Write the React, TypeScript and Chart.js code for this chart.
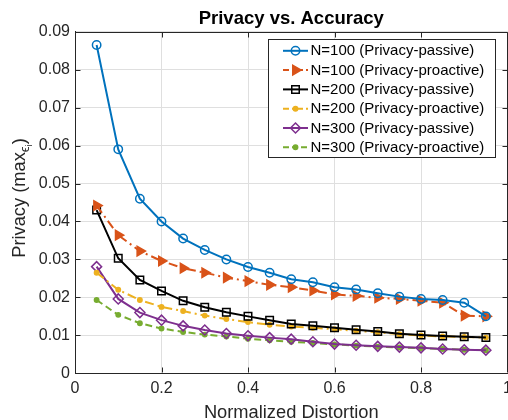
import React, { useEffect, useRef } from 'react';
import { Chart, registerables } from 'chart.js';

Chart.register(...registerables);

// ---------- data ----------
const distortion = [0.05, 0.1, 0.15, 0.2, 0.25, 0.3, 0.35, 0.4, 0.45, 0.5, 0.55, 0.6, 0.65, 0.7, 0.75, 0.8, 0.85, 0.9, 0.95];

const n100Passive = [0.0865, 0.059, 0.046, 0.04, 0.0355, 0.0325, 0.03, 0.028, 0.0265, 0.0248, 0.024, 0.0227, 0.0221, 0.0211, 0.0202, 0.0196, 0.0193, 0.0186, 0.015];
const n100Proactive = [0.0442, 0.0364, 0.0322, 0.0296, 0.0277, 0.0265, 0.0252, 0.0243, 0.0233, 0.0227, 0.0218, 0.0208, 0.0204, 0.0199, 0.0196, 0.0191, 0.0186, 0.0152, 0.015];
const n200Passive = [0.043, 0.0303, 0.0246, 0.0217, 0.0191, 0.0174, 0.0161, 0.015, 0.014, 0.013, 0.0125, 0.012, 0.0115, 0.011, 0.0104, 0.0101, 0.0098, 0.0096, 0.0094];
const n200Proactive = [0.0265, 0.022, 0.0193, 0.0175, 0.0164, 0.0152, 0.0143, 0.0135, 0.0128, 0.0123, 0.012, 0.0116, 0.0112, 0.0108, 0.0103, 0.01, 0.0097, 0.0096, 0.0094];
const n300Passive = [0.0281, 0.0196, 0.016, 0.014, 0.0125, 0.0114, 0.0105, 0.0099, 0.0094, 0.009, 0.0083, 0.0077, 0.0074, 0.0071, 0.0069, 0.0067, 0.0064, 0.0062, 0.0061];
const n300Proactive = [0.0193, 0.0154, 0.0132, 0.0118, 0.0109, 0.0102, 0.0097, 0.0091, 0.0087, 0.0083, 0.008, 0.0076, 0.0073, 0.007, 0.0068, 0.0066, 0.0064, 0.0062, 0.0061];

const seriesLabels = [
  'N=100 (Privacy-passive)',
  'N=100 (Privacy-proactive)',
  'N=200 (Privacy-passive)',
  'N=200 (Privacy-proactive)',
  'N=300 (Privacy-passive)',
  'N=300 (Privacy-proactive)',
];

const xTickLabels = ['0', '0.2', '0.4', '0.6', '0.8', '1'];
const yTickLabels = ['0', '0.01', '0.02', '0.03', '0.04', '0.05', '0.06', '0.07', '0.08', '0.09'];

const chartTitle = 'Privacy vs. Accuracy';
const xTitle = 'Normalized Distortion';
const yTitleMain = 'Privacy (max';
const yTitleSub = 'ϵ';
const yTitleSubSub = 'i';
const yTitleEnd = ')';

// ---------- styles ----------
const FONT = '"Liberation Sans", Arial, Helvetica, sans-serif';
const AXIS = '#262626';
const GRID = '#dfdfdf';

type Style = {
  color: string;
  dash: number[];
  marker: string;
  radius: number;
  filled: boolean;
  rotation: number;
};

const styles: Style[] = [
  { color: '#0072BD', dash: [], marker: 'circle', radius: 4.2, filled: false, rotation: 0 },
  { color: '#D95319', dash: [9, 4, 2, 4], marker: 'triangle', radius: 5.5, filled: true, rotation: 90 },
  { color: '#000000', dash: [], marker: 'rect', radius: 5.3, filled: false, rotation: 0 },
  { color: '#EDB120', dash: [9, 4, 2, 4], marker: 'circle', radius: 2.2, filled: true, rotation: 0 },
  { color: '#7E2F8E', dash: [], marker: 'rectRot', radius: 5, filled: false, rotation: 0 },
  { color: '#77AC30', dash: [7, 4], marker: 'circle', radius: 2.2, filled: true, rotation: 0 },
];

const allSeries = [n100Passive, n100Proactive, n200Passive, n200Proactive, n300Passive, n300Proactive];

function drawMarker(ctx: CanvasRenderingContext2D, s: Style, x: number, y: number) {
  const r = s.radius;
  ctx.beginPath();
  if (s.marker === 'circle') {
    ctx.arc(x, y, r, 0, Math.PI * 2);
  } else if (s.marker === 'triangle') {
    let rad = (s.rotation * Math.PI) / 180;
    for (let k = 0; k < 3; k++) {
      const px = x + Math.sin(rad) * r;
      const py = y - Math.cos(rad) * r;
      if (k === 0) ctx.moveTo(px, py);
      else ctx.lineTo(px, py);
      rad += (2 * Math.PI) / 3;
    }
    ctx.closePath();
  } else if (s.marker === 'rect') {
    const h = Math.SQRT1_2 * r;
    ctx.rect(x - h, y - h, 2 * h, 2 * h);
  } else if (s.marker === 'rectRot') {
    ctx.moveTo(x - r, y);
    ctx.lineTo(x, y - r);
    ctx.lineTo(x + r, y);
    ctx.lineTo(x, y + r);
    ctx.closePath();
  }
  if (s.filled) {
    ctx.fillStyle = s.color;
    ctx.fill();
  }
  ctx.setLineDash([]);
  ctx.lineWidth = 1.5;
  ctx.strokeStyle = s.color;
  ctx.stroke();
}

const decorPlugin = {
  id: 'decor',
  beforeDatasetsDraw(chart: any) {
    const { ctx, chartArea: a, scales } = chart;
    ctx.save();
    ctx.strokeStyle = AXIS;
    ctx.lineWidth = 1;
    ctx.setLineDash([]);
    const top = Math.round(a.top) + 0.5;
    const right = Math.round(a.right) - 0.5;
    const bottom = Math.round(a.bottom) - 0.5;
    const left = Math.round(a.left) + 0.5;
    ctx.beginPath();
    ctx.moveTo(left, top);
    ctx.lineTo(right, top);
    ctx.lineTo(right, bottom);
    ctx.stroke();
    const tl = 5;
    ctx.beginPath();
    xTickLabels.forEach((_, i) => {
      const px = Math.round(scales.x.getPixelForValue(i * 0.2)) + 0.5;
      ctx.moveTo(px, top);
      ctx.lineTo(px, top + tl);
      ctx.moveTo(px, bottom);
      ctx.lineTo(px, bottom - tl);
    });
    yTickLabels.forEach((_, i) => {
      const py = Math.round(scales.y.getPixelForValue(i * 0.01)) + 0.5;
      ctx.moveTo(left, py);
      ctx.lineTo(left + tl, py);
      ctx.moveTo(right, py);
      ctx.lineTo(right - tl, py);
    });
    ctx.stroke();
    ctx.restore();
  },
  afterDatasetsDraw(chart: any) {
    const { ctx, chartArea: a } = chart;
    ctx.save();
    // legend box
    const bx = 268.5, by = 39.5, bw = 227, bh = 118;
    ctx.fillStyle = '#ffffff';
    ctx.fillRect(bx, by, bw, bh);
    ctx.strokeStyle = AXIS;
    ctx.lineWidth = 1;
    ctx.setLineDash([]);
    ctx.strokeRect(bx, by, bw, bh);
    ctx.font = `15px ${FONT}`;
    ctx.textBaseline = 'middle';
    ctx.textAlign = 'left';
    seriesLabels.forEach((label, i) => {
      const s = styles[i];
      const y = by + 11.3 + i * 19.3;
      ctx.beginPath();
      ctx.setLineDash(s.dash.length ? [6, 3, 2, 3].slice(0, s.dash.length) : []);
      ctx.strokeStyle = s.color;
      ctx.lineWidth = 2;
      ctx.moveTo(283, y);
      ctx.lineTo(308, y);
      ctx.stroke();
      drawMarker(ctx, s, 295.5, y);
      ctx.fillStyle = '#000000';
      ctx.fillText(label, 310.5, y + 0.5);
    });

    // title
    ctx.fillStyle = '#000000';
    ctx.font = `bold 18.5px ${FONT}`;
    ctx.textAlign = 'center';
    ctx.textBaseline = 'alphabetic';
    ctx.fillText(chartTitle, (a.left + a.right) / 2, 24);

    // x title
    ctx.fillStyle = AXIS;
    ctx.font = `18.3px ${FONT}`;
    ctx.fillText(xTitle, (a.left + a.right) / 2, 418);

    // y title with subscripts
    const mainFont = `18.3px ${FONT}`;
    const subFont = `13px ${FONT}`;
    const subSubFont = `9.5px ${FONT}`;
    ctx.font = mainFont;
    const w1 = ctx.measureText(yTitleMain).width;
    const w4 = ctx.measureText(yTitleEnd).width;
    ctx.font = subFont;
    const w2 = ctx.measureText(yTitleSub).width;
    ctx.font = subSubFont;
    const w3 = ctx.measureText(yTitleSubSub).width;
    const total = w1 + w2 + w3 + w4;
    ctx.translate(25, 198);
    ctx.rotate(-Math.PI / 2);
    ctx.textAlign = 'left';
    let cx = -total / 2;
    ctx.font = mainFont;
    ctx.fillText(yTitleMain, cx, 0);
    cx += w1;
    ctx.font = subFont;
    ctx.fillText(yTitleSub, cx, 4);
    cx += w2;
    ctx.font = subSubFont;
    ctx.fillText(yTitleSubSub, cx, 7);
    cx += w3;
    ctx.font = mainFont;
    ctx.fillText(yTitleEnd, cx, 0);
    ctx.restore();
  },
};

export default function App() {
  const ref = useRef<HTMLCanvasElement | null>(null);

  useEffect(() => {
    if (!ref.current) return;
    const datasets = allSeries.map((vals, i) => {
      const s = styles[i];
      return {
        label: seriesLabels[i],
        data: distortion.map((x, j) => ({ x, y: vals[j] })),
        borderColor: s.color,
        backgroundColor: s.color,
        borderWidth: 2,
        borderDash: s.dash,
        pointStyle: s.marker,
        pointRadius: s.radius,
        pointRotation: s.rotation,
        pointBackgroundColor: s.filled ? s.color : 'rgba(0,0,0,0)',
        pointBorderColor: s.color,
        pointBorderWidth: 1.5,
        fill: false,
        tension: 0,
      };
    });

    const chart = new Chart(ref.current, {
      type: 'line',
      data: { datasets },
      plugins: [decorPlugin],
      options: {
        animation: false,
        responsive: false,
        maintainAspectRatio: false,
        layout: { padding: { top: 31.7, right: 32.5, left: 0, bottom: 0 } },
        plugins: {
          legend: { display: false },
          title: { display: false },
          tooltip: { enabled: false },
        },
        scales: {
          x: {
            type: 'linear',
            min: 0,
            max: 1,
            afterFit: (scale: any) => {
              scale.height = 46.7;
            },
            afterBuildTicks: (scale: any) => {
              scale.ticks = xTickLabels.map((_, i) => ({ value: i * 0.2 }));
            },
            ticks: {
              callback: (_v: any, i: number) => xTickLabels[i],
              font: { family: FONT, size: 16 },
              color: AXIS,
              padding: 6,
              maxRotation: 0,
              autoSkip: false,
            },
            grid: { color: GRID, lineWidth: 1, drawTicks: false },
            border: { color: AXIS, width: 1 },
          },
          y: {
            type: 'linear',
            min: 0,
            max: 0.09,
            afterFit: (scale: any) => {
              scale.width = 75;
            },
            afterBuildTicks: (scale: any) => {
              scale.ticks = yTickLabels.map((_, i) => ({ value: i * 0.01 }));
            },
            ticks: {
              callback: (_v: any, i: number) => yTickLabels[i],
              font: { family: FONT, size: 16 },
              color: AXIS,
              padding: 5,
              autoSkip: false,
            },
            grid: { color: GRID, lineWidth: 1, drawTicks: false },
            border: { color: AXIS, width: 1 },
          },
        },
      },
    } as any);
    return () => chart.destroy();
  }, []);

  return (
    <div style={{ position: 'fixed', left: 0, top: 0, width: 540, height: 420, background: '#ffffff' }}>
      <canvas ref={ref} width={540} height={420} style={{ display: 'block', width: 540, height: 420 }} />
    </div>
  );
}
